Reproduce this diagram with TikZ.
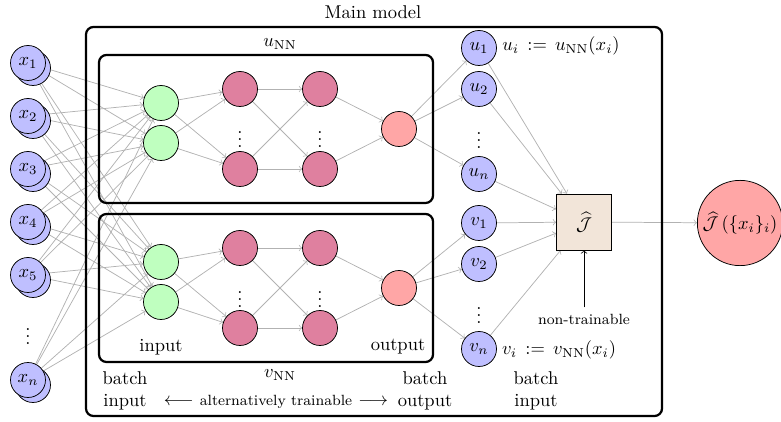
\documentclass[tikz,border=0pt]{standalone}
\usepackage{amsmath}
\usetikzlibrary{backgrounds}

\begin{document}
\begin{tikzpicture}[x=0.019cm, y=-0.019cm,
		neuron/.style={circle, draw, minimum size=0.665cm, inner sep=0pt},
		valpt/.style={neuron, fill=blue!25},
		inpt/.style={neuron, fill=green!25},
		hidpt/.style={neuron, fill=purple!50},
		outpt/.style={neuron, fill=red!35},
		link/.style={->, black!30},
		netbox/.style={very thick, rounded corners=4pt},
		twoline/.style={align=center}]
		%%%%% START %%%%%
		\useasboundingbox (0, 0) rectangle (781, 422);
		
		\draw[netbox] (86, 27) rectangle (662, 416);
		\node (title) at (373, 12) {Main model};
		
		\draw[netbox] (99, 55) rectangle (433, 203);
		\draw[netbox] (99, 214) rectangle (433, 362);
		\node (unn) at (280, 44) {$u_{\mathrm{NN}}$};
		\node (vnn) at (280, 375) {$v_{\mathrm{NN}}$};
		
		% data points, each with a copy behind it
		\foreach \y in {63, 116, 169, 222, 275, 380}
			\node[valpt] at (33, \y+5) {};
		\node[valpt] (x1) at (28, 63) {$x_1$};
		\node[valpt] (x2) at (28, 116) {$x_2$};
		\node[valpt] (x3) at (28, 169) {$x_3$};
		\node[valpt] (x4) at (28, 222) {$x_4$};
		\node[valpt] (x5) at (28, 275) {$x_5$};
		\node (xd) at (28, 331) {$\vdots$};
		\node[valpt] (xn) at (28, 380) {$x_n$};
		
		% u network
		\node[inpt] (ia1) at (161, 103) {};
		\node[inpt] (ia2) at (161, 143) {};
		\node[hidpt] (ha1) at (240, 89) {};
		\node[hidpt] (ha2) at (240, 169) {};
		\node (had) at (240, 134) {$\vdots$};
		\node[hidpt] (ga1) at (320, 89) {};
		\node[hidpt] (ga2) at (320, 169) {};
		\node (gad) at (320, 134) {$\vdots$};
		\node[outpt] (oa) at (399, 129) {};
		
		% v network
		\node[inpt] (ib1) at (161, 262) {};
		\node[inpt] (ib2) at (161, 302) {};
		\node[hidpt] (hb1) at (240, 248) {};
		\node[hidpt] (hb2) at (240, 328) {};
		\node (hbd) at (240, 294) {$\vdots$};
		\node[hidpt] (gb1) at (320, 248) {};
		\node[hidpt] (gb2) at (320, 328) {};
		\node (gbd) at (320, 294) {$\vdots$};
		\node[outpt] (ob) at (399, 288) {};
		\node (inlab) at (161, 347) {input};
		\node (outlab) at (398, 347) {output};
		
		% batch values
		\node[valpt] (u1) at (479, 48) {$u_1$};
		\node[valpt] (u2) at (479, 89) {$u_2$};
		\node (ud) at (479, 135) {$\vdots$};
		\node[valpt] (un) at (479, 174) {$u_n$};
		\node[valpt] (v1) at (479, 223) {$v_1$};
		\node[valpt] (v2) at (479, 264) {$v_2$};
		\node (vd) at (479, 310) {$\vdots$};
		\node[valpt] (vn) at (479, 349) {$v_n$};
		\node (udef) at (561, 46) {$u_i \, := \, u_{\mathrm{NN}}(x_i)$};
		\node (vdef) at (559, 350) {$v_i \, := \, v_{\mathrm{NN}}(x_i)$};
		
		% loss
		\node[draw, fill=brown!20, minimum width=1.045cm, minimum height=1.06cm] (J) at (584, 222) {$\widehat{\mathcal{J}}$};
		\node (nt) at (584, 319) {\footnotesize non-trainable};
		\node[circle, draw, fill=red!35, minimum size=1.62cm, inner sep=0pt] (res) at (740, 223) {$\widehat{\mathcal{J}}\left(\{x_i\}_i\right)$};
		
		\node[twoline] (bin) at (125, 391) {batch\\input};
		\node[twoline] (bout) at (425, 391) {batch\\output};
		\node[twoline] (bval) at (536, 391) {batch\\input};
		\node (alt) at (276, 402) {$\longleftarrow$ {\footnotesize alternatively trainable} $\longrightarrow$};
		
		\begin{scope}[on background layer]
			\foreach \s in {x1, x2, x3, x4, x5, xn}
				\foreach \t in {ia1, ia2, ib1, ib2}
					\draw[link] (\s) -- (\t);
			\foreach \n in {a, b} {
				\foreach \i in {1, 2}
					\foreach \j in {1, 2} {
						\draw[link] (i\n\i) -- (h\n\j);
						\draw[link] (h\n\i) -- (g\n\j);
					}
				\draw[link] (g\n1) -- (o\n);
				\draw[link] (g\n2) -- (o\n);
			}
			\foreach \t in {u1, u2, un}
				\draw[link] (oa) -- (\t);
			\foreach \t in {v1, v2, vn}
				\draw[link] (ob) -- (\t);
			\foreach \s in {u1, u2, un, v1, v2, vn}
				\draw[link] (\s) -- (J);
			\draw[link] (J) -- (res);
		\end{scope}
		\draw[->] (nt) -- (J);
		%%%%% END %%%%%
	\end{tikzpicture}
\end{document}
